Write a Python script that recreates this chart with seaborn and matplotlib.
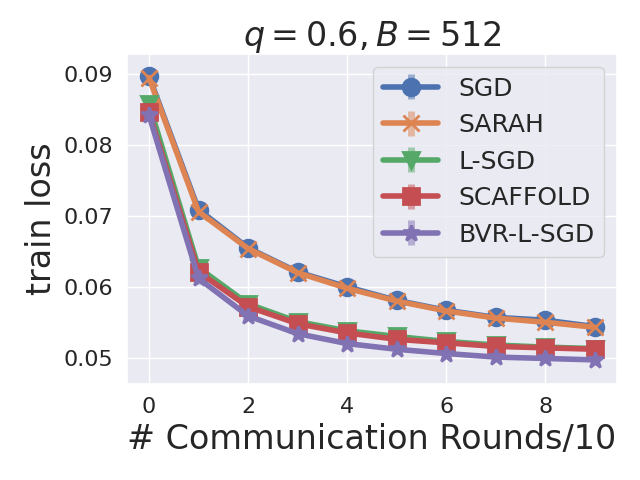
import matplotlib
matplotlib.use("Agg")
import matplotlib.pyplot as plt
import seaborn as sns
import numpy as np

rounds = [0, 1, 2, 3, 4, 5, 6, 7, 8, 9]
sgd = [0.0897, 0.0709, 0.0655, 0.0621, 0.0600, 0.0581, 0.0567, 0.0557, 0.0553, 0.0544]
sarah = [0.0895, 0.0706, 0.0654, 0.0620, 0.0598, 0.0580, 0.0566, 0.0556, 0.0550, 0.0543]
lsgd = [0.0858, 0.0627, 0.0576, 0.0551, 0.0538, 0.0530, 0.0523, 0.0518, 0.0515, 0.0513]
scaffold = [0.0846, 0.0621, 0.0572, 0.0548, 0.0535, 0.0526, 0.0521, 0.0516, 0.0514, 0.0512]
bvr = [0.0842, 0.0612, 0.0559, 0.0534, 0.0520, 0.0512, 0.0506, 0.0501, 0.0499, 0.0497]

sgd_err = [0.0004, 0.0007, 0.0006, 0.0006, 0.0007, 0.0006, 0.0007, 0.0006, 0.0008, 0.0007]
sarah_err = [0.0004, 0.0006, 0.0006, 0.0006, 0.0006, 0.0006, 0.0006, 0.0006, 0.0006, 0.0006]
lsgd_err = [0.0003, 0.0006, 0.0005, 0.0005, 0.0005, 0.0005, 0.0005, 0.0005, 0.0005, 0.0005]
scaffold_err = [0.0003, 0.0006, 0.0005, 0.0005, 0.0005, 0.0005, 0.0005, 0.0005, 0.0005, 0.0005]
bvr_err = [0.0003, 0.0008, 0.0006, 0.0006, 0.0006, 0.0006, 0.0006, 0.0006, 0.0006, 0.0006]

names = ["SGD", "SARAH", "L-SGD", "SCAFFOLD", "BVR-L-SGD"]
series = [sgd, sarah, lsgd, scaffold, bvr]
errors = [sgd_err, sarah_err, lsgd_err, scaffold_err, bvr_err]
markers = ["o", "x", "v", "s", "*"]

sns.set_theme(style="darkgrid")
colors = sns.color_palette("deep")

fig, ax = plt.subplots(figsize=(6.4, 4.8), dpi=100)
for i, name in enumerate(names):
    line, caps, bars = ax.errorbar(rounds, series[i], yerr=errors[i], label=name,
                                   color=colors[i], marker=markers[i], markersize=12,
                                   linewidth=4, elinewidth=5, mew=2)
    for b in bars:
        b.set_alpha(0.5)

ax.set_ylim(0.0463, 0.0928)
ax.set_xticks([0, 2, 4, 6, 8])
ax.set_yticks([0.05, 0.06, 0.07, 0.08, 0.09])
ax.tick_params(labelsize=16)
ax.set_title(r"$q = 0.6, B = 512$", fontsize=24)
ax.set_xlabel("# Communication Rounds/10", fontsize=24)
ax.set_ylabel("train loss", fontsize=24)
ax.legend(fontsize=18, loc="upper right", handlelength=2.2)
fig.subplots_adjust(left=0.198, right=0.964, bottom=0.2, top=0.887)
fig.savefig("out.png")
